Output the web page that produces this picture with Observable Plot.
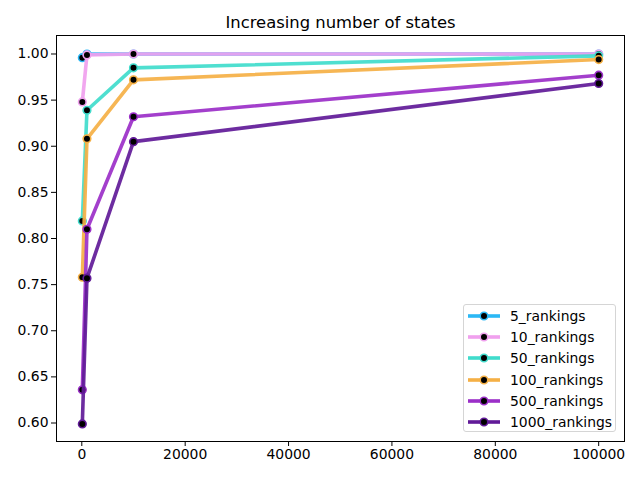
<!DOCTYPE html>
<html>
<head>
<meta charset="utf-8">
<script src="https://cdn.jsdelivr.net/npm/d3@7"></script>
<script src="https://cdn.jsdelivr.net/npm/@observablehq/plot@0.6"></script>
<style>
  body { margin: 0; background: #fff; font-family: "DejaVu Sans", sans-serif; }
  #wrap { position: relative; width: 640px; height: 480px; }
  #legend { position: absolute; left: 463px; top: 304px; width: 153px; height: 128px;
    border: 1px solid #d5d5d5; border-radius: 3px; background: rgba(255,255,255,0.8);
    box-sizing: border-box; padding-top: 0px; }
  .row { height: 21.3px; display: flex; align-items: center; font-size: 13.9px; color: #000; }
  .row svg { margin-left: 4px; margin-right: 10px; }
</style>
</head>
<body>
<div id="wrap"></div>
<script>
const title = "Increasing number of states";
const xStates = [100, 1000, 10000, 100000];
const seriesNames = ["5_rankings", "10_rankings", "50_rankings", "100_rankings", "500_rankings", "1000_rankings"];
const seriesColors = ["#2bb8f5", "#f0a0ee", "#40dccc", "#f5b045", "#9b2fc8", "#611a98"];
const v5 = [0.996, 1.0, 1.0, 1.0];
const v10 = [0.948, 0.999, 1.0, 1.0];
const v50 = [0.819, 0.939, 0.985, 0.998];
const v100 = [0.758, 0.908, 0.972, 0.994];
const v500 = [0.636, 0.810, 0.932, 0.977];
const v1000 = [0.599, 0.757, 0.905, 0.968];
const seriesValues = [v5, v10, v50, v100, v500, v1000];
const yTicks = [0.60, 0.65, 0.70, 0.75, 0.80, 0.85, 0.90, 0.95, 1.00];
const xTicks = [0, 20000, 40000, 60000, 80000, 100000];

const rows = seriesNames.map((name, i) => xStates.map((x, j) => ({series: name, x, y: seriesValues[i][j], color: seriesColors[i]})));

const marks = [];
rows.forEach((data, i) => {
  marks.push(Plot.line(data, {x: "x", y: "y", stroke: seriesColors[i], strokeWidth: 3.6, strokeOpacity: 0.92}));
  marks.push(Plot.dot(data, {x: "x", y: "y", r: 3.8, fill: "black", stroke: seriesColors[i], strokeWidth: 1.6}));
});

const chart = Plot.plot({
  width: 640, height: 480,
  marginLeft: 56, marginRight: 16, marginTop: 35, marginBottom: 39,
  style: {fontFamily: "DejaVu Sans, sans-serif", fontSize: "13.9px", color: "#000", background: "#fff"},
  x: {domain: [-4895, 104995], ticks: xTicks, tickFormat: d3.format("d"), tickSize: 5, tickPadding: 3, label: null},
  y: {domain: [0.57995, 1.02005], ticks: yTicks, tickFormat: d3.format(".2f"), tickSize: 5, tickPadding: 3, label: null},
  marks: [
    ...marks,
    Plot.frame({stroke: "black", strokeWidth: 1}),
    Plot.text([title], {frameAnchor: "top", dy: -8, fontSize: 16.4, fill: "black", lineAnchor: "bottom"})
  ]
});
document.getElementById("wrap").appendChild(chart);

const legend = document.createElement("div");
legend.id = "legend";
seriesNames.forEach((name, i) => {
  const row = document.createElement("div");
  row.className = "row";
  row.innerHTML = `<svg width="32" height="12"><line x1="0" y1="6" x2="32" y2="6" stroke="${seriesColors[i]}" stroke-width="3.6"/><circle cx="16" cy="6" r="3.8" fill="black" stroke="${seriesColors[i]}" stroke-width="1.6"/></svg><span>${name}</span>`;
  legend.appendChild(row);
});
document.getElementById("wrap").appendChild(legend);
</script>
</body>
</html>
